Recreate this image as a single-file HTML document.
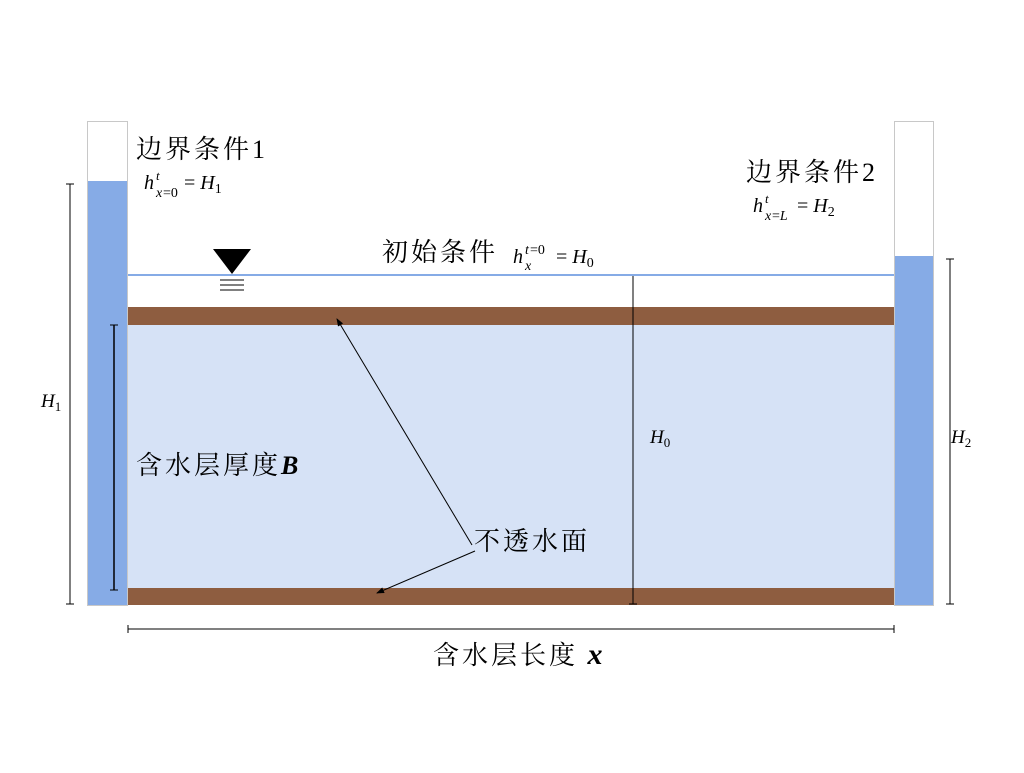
<!DOCTYPE html>
<html><head><meta charset="utf-8"><style>
body{margin:0;background:#fff}
svg text{font-family:"Liberation Serif","Noto Serif CJK SC",serif;fill:#000}
.cj{font-size:26px;letter-spacing:3px}
</style></head><body>
<svg width="1024" height="768" viewBox="0 0 1024 768" xmlns="http://www.w3.org/2000/svg">
<defs><marker id="a" markerWidth="8" markerHeight="8" refX="7" refY="4" orient="auto" markerUnits="userSpaceOnUse"><path d="M0,1 L8,4 L0,7z" fill="#000"/></marker></defs>
<rect x="87.5" y="121.5" width="40" height="484" fill="#fff" stroke="#c8c8c8"/>
<rect x="88" y="181" width="39" height="424" fill="#86abe6"/>
<rect x="894.5" y="121.5" width="39" height="484" fill="#fff" stroke="#c8c8c8"/>
<rect x="895" y="256" width="38" height="349" fill="#86abe6"/>
<rect x="128" y="325" width="766" height="263" fill="#d6e2f6"/>
<rect x="128" y="307" width="766" height="18" fill="#8e5d40"/>
<rect x="128" y="588" width="766" height="17" fill="#8e5d40"/>
<line x1="128" y1="275" x2="894" y2="275" stroke="#86abe6" stroke-width="2"/>
<polygon points="213,249 251,249 232,274" fill="#000"/>
<line x1="220" y1="280" x2="244" y2="280" stroke="#000"/>
<line x1="220" y1="285" x2="244" y2="285" stroke="#000"/>
<line x1="220" y1="290" x2="244" y2="290" stroke="#000"/>
<g stroke="#000" stroke-width="1">
<line x1="70" y1="184" x2="70" y2="604"/><line x1="66" y1="184" x2="74" y2="184"/><line x1="66" y1="604" x2="74" y2="604"/>
<line x1="114" y1="325" x2="114" y2="590" stroke-width="1.5"/><line x1="110" y1="325" x2="118" y2="325"/><line x1="110" y1="590" x2="118" y2="590"/>
<line x1="633" y1="276" x2="633" y2="604"/><line x1="629" y1="604" x2="637" y2="604"/>
<line x1="950" y1="259" x2="950" y2="604"/><line x1="946" y1="259" x2="954" y2="259"/><line x1="946" y1="604" x2="954" y2="604"/>
<line x1="128" y1="629" x2="894" y2="629"/><line x1="128" y1="625" x2="128" y2="633"/><line x1="894" y1="625" x2="894" y2="633"/>
<line x1="472" y1="545" x2="337" y2="319" marker-end="url(#a)"/>
<line x1="475" y1="551" x2="377" y2="593" marker-end="url(#a)"/>
</g>
<text x="136" y="158" class="cj">边界条件1</text>
<text x="144" y="189" font-size="20" font-style="italic">h</text>
<text x="156" y="180" font-size="13" font-style="italic">t</text>
<text x="156" y="197" font-size="14" font-style="italic">x</text><text x="163" y="197" font-size="14">=0</text>
<text x="184" y="189" font-size="20">= <tspan font-style="italic">H</tspan><tspan font-size="14" dy="4">1</tspan></text>
<text x="746" y="181" class="cj">边界条件2</text>
<text x="753" y="212" font-size="20" font-style="italic">h</text>
<text x="765" y="203" font-size="13" font-style="italic">t</text>
<text x="765" y="220" font-size="14" font-style="italic">x</text><text x="772" y="220" font-size="14">=<tspan font-style="italic">L</tspan></text>
<text x="797" y="212" font-size="20">= <tspan font-style="italic">H</tspan><tspan font-size="14" dy="4">2</tspan></text>
<text x="382" y="261" class="cj">初始条件</text>
<text x="513" y="263" font-size="20" font-style="italic">h</text>
<text x="525" y="254" font-size="14" font-style="italic">t</text><text x="530" y="254" font-size="14">=0</text>
<text x="525" y="270" font-size="14" font-style="italic">x</text>
<text x="556" y="263" font-size="20">= <tspan font-style="italic">H</tspan><tspan font-size="14" dy="4">0</tspan></text>
<text x="41" y="407" font-size="19" font-style="italic">H<tspan font-size="13" font-style="normal" dy="4">1</tspan></text>
<text x="650" y="443" font-size="19" font-style="italic">H<tspan font-size="13" font-style="normal" dy="4">0</tspan></text>
<text x="951" y="443" font-size="19" font-style="italic">H<tspan font-size="13" font-style="normal" dy="4">2</tspan></text>
<text x="136" y="474" class="cj">含水层厚度<tspan font-style="italic" font-weight="bold">B</tspan></text>
<text x="474" y="550" class="cj">不透水面</text>
<text x="433" y="664" class="cj">含水层长度 <tspan font-style="italic" font-weight="bold" font-size="30">x</tspan></text>
</svg>
</body></html>
